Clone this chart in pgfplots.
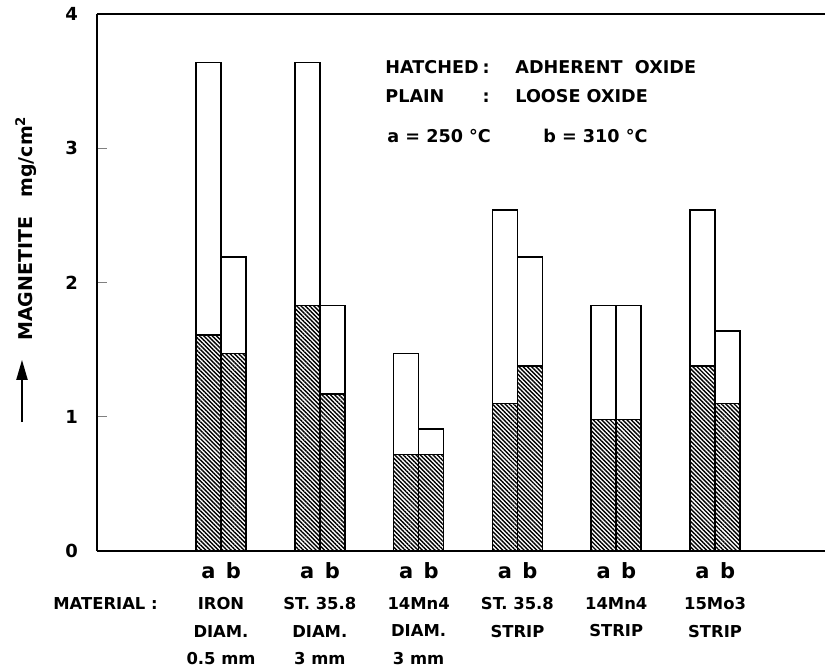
\documentclass[border=0pt]{standalone}
\usepackage{fontspec}
\setmainfont{DejaVu Sans}
\usepackage{pgfplots}
\pgfplotsset{compat=1.18}
\usepackage{pgfplotstable}
\usetikzlibrary{patterns.meta,arrows.meta}

% x: group centre -/+ half a bar; tot = whole bar, adh = hatched part (mg/cm2)
\pgfplotstableread{
x       tot   adh
0.8735  3.64  1.61
1.1265  2.19  1.47
1.8735  3.64  1.83
2.1265  1.83  1.17
2.8735  1.47  0.72
3.1265  0.91  0.72
3.8735  2.54  1.10
4.1265  2.19  1.38
4.8735  1.83  0.98
5.1265  1.83  0.98
5.8735  2.54  1.38
6.1265  1.64  1.10
}\magnetite

\tikzset{leg/.style={anchor=base west, inner sep=0pt, font=\fontsize{8.8}{10}\selectfont\bfseries},
         mat/.style={anchor=north, align=center, inner sep=0pt, font=\fontsize{8.2}{13.75}\selectfont\bfseries}}

\begin{document}
\begin{tikzpicture}
\begin{axis}[
    scale only axis,
    width=364pt, height=268.5pt,
    xmin=-0.255, xmax=7.113,
    ymin=0, ymax=4,
    axis x line*=box, axis y line*=left,
    axis line style={-, line width=0.8pt},
    ytick={0,1,2,3,4},
    major tick length=5pt,
    tick align=inside,
    ytick style={line width=0.6pt},
    yticklabel style={font=\fontsize{9}{10}\selectfont\bfseries, xshift=-6pt},
    xtick={0.8735,1.1265,1.8735,2.1265,2.8735,3.1265,3.8735,4.1265,4.8735,5.1265,5.8735,6.1265},
    xticklabels={a,b,a,b,a,b,a,b,a,b,a,b},
    xtick style={draw=none},
    xticklabel style={font=\fontsize{10.5}{11}\selectfont\bfseries, anchor=base, yshift=-8.5pt},
    /pgf/number format/assume math mode=true,
    ybar, bar shift=0pt, bar width=0.253,
    clip=false,
]
\addplot[draw=black, line width=0.8pt, fill=white] table[x=x, y=tot] {\magnetite};
\addplot[draw=black, line width=0.8pt,
    pattern={Lines[angle=-45, distance=1.5pt, line width=0.7pt]}] table[x=x, y=adh] {\magnetite};

% legend text
\node[leg] at (rel axis cs:0.3956,0.890) {HATCHED};
\node[leg] at (rel axis cs:0.5290,0.890) {:};
\node[leg] at (rel axis cs:0.5742,0.890) {ADHERENT\ \ OXIDE};
\node[leg] at (rel axis cs:0.3956,0.836) {PLAIN};
\node[leg] at (rel axis cs:0.5290,0.836) {:};
\node[leg] at (rel axis cs:0.5742,0.836) {LOOSE\ OXIDE};
\node[leg] at (rel axis cs:0.3984,0.7616) {a = 250 °C};
\node[leg] at (rel axis cs:0.6126,0.7616) {b = 310 °C};

% material labels
\node[mat, anchor=north west] at ([xshift=-22pt, yshift=-23pt]rel axis cs:0,0) {MATERIAL :};
\node[mat] at ([yshift=-23pt]axis cs:1,0) {IRON\\DIAM.\\0.5 mm};
\node[mat] at ([yshift=-23pt]axis cs:2,0) {ST. 35.8\\DIAM.\\3 mm};
\node[mat] at ([yshift=-23pt]axis cs:3,0) {14Mn4\\DIAM.\\3 mm};
\node[mat] at ([yshift=-23pt]axis cs:4,0) {ST. 35.8\\STRIP};
\node[mat] at ([yshift=-23pt]axis cs:5,0) {14Mn4\\STRIP};
\node[mat] at ([yshift=-23pt]axis cs:6,0) {15Mo3\\STRIP};

% y label with arrow
\node[rotate=90, inner sep=0pt, font=\fontsize{9.5}{10}\selectfont\bfseries] at ([xshift=-35.5pt]rel axis cs:0,0.601) {MAGNETITE\quad mg/cm\textsuperscript{2}};
\draw[line width=1pt, -{Triangle[length=10pt, width=5.5pt]}] ([xshift=-37.5pt]rel axis cs:0,0.240) -- ([xshift=-37.5pt]rel axis cs:0,0.356);

\coordinate (bl) at (rel axis cs:0,0);
\coordinate (tr) at (rel axis cs:1,1);
\end{axis}
\pgfresetboundingbox
\path[use as bounding box] ([xshift=-48.5pt,yshift=-60pt]bl) rectangle ([xshift=1pt,yshift=7pt]tr);
\end{tikzpicture}
\end{document}
